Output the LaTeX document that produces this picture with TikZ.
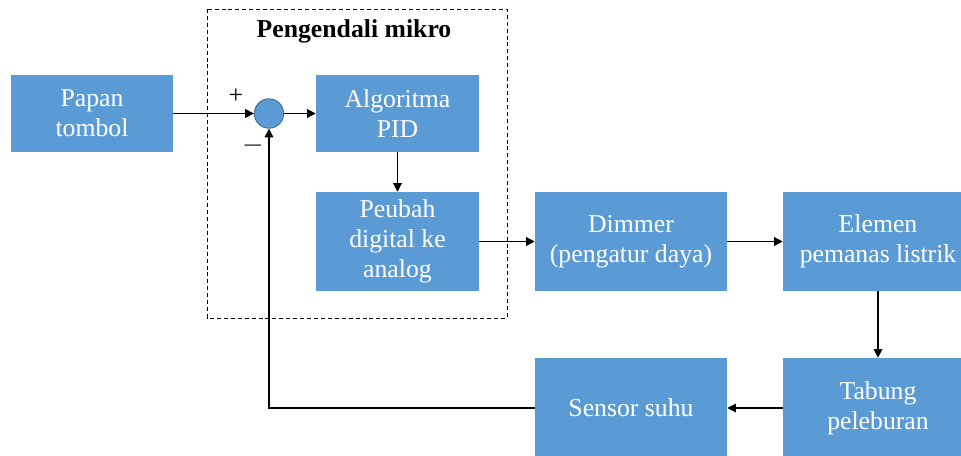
\documentclass[tikz,border=0pt]{standalone}
\usepackage{xcolor}
\usepackage{fontspec}
\setmainfont{Liberation Serif}
\usepackage{tikz}
\usetikzlibrary{arrows.meta}
\definecolor{blockblue}{RGB}{91,155,213}
\definecolor{blockedge}{RGB}{65,113,156}

\tikzset{
  block/.style={fill=blockblue, text=white, align=center, inner sep=0pt,
    font=\fontsize{19.3}{22.5}\selectfont},
  arr/.style={line width=0.9pt, -{Triangle[length=6.5pt,width=6.5pt]}}
}

\begin{document}
\begin{tikzpicture}[x=0.75pt, y=-0.75pt]
  \useasboundingbox (0,0) rectangle (961,455);
  \clip (0,0) rectangle (961,455);

  % microcontroller frame
  \draw[line width=0.75pt, dash pattern=on 3pt off 2.2pt] (207,9) rectangle (507,318);
  \node[font=\fontsize{19.3}{22.5}\selectfont\bfseries] (title) at (354,31) {Pengendali mikro};

  \node[block, minimum width=121.5pt, minimum height=57.75pt] (papan) at (92,113.5) {Papan\\tombol};
  \node[circle, fill=blockblue, draw=blockedge, line width=0.75pt, minimum size=22pt, inner sep=0pt] (sum) at (269,113.5) {};
  \node[block, minimum width=122.25pt, minimum height=57.75pt] (pid) at (397.5,113.5) {Algoritma\\PID};
  \node[block, minimum width=122.25pt, minimum height=74.25pt] (dac) at (397.5,241.5) {Peubah\\digital ke\\analog};
  \node[block, minimum width=144pt, minimum height=74.25pt] (dimmer) at (631,241.5) {Dimmer\\(pengatur daya)};
  \node[block, minimum width=142.5pt, minimum height=74.25pt] (heater) at (878,241.5) {Elemen\\pemanas listrik};
  \node[block, minimum width=142.5pt, minimum height=75pt] (tube) at (878,408) {Tabung\\peleburan};
  \node[block, minimum width=144pt, minimum height=75pt] (sensor) at (631,408) {Sensor suhu};

  \node[font=\fontsize{19.3}{22.5}\selectfont] (plus) at (236,96) {+};
  \node[font=\fontsize{19.3}{22.5}\selectfont] (minus) at (253,146) {$-$};

  \draw[arr] (papan.east) -- (sum.west);
  \draw[arr] (sum.east) -- (pid.west);
  \draw[arr] (pid.south) -- (dac.north);
  \draw[arr] (dac.east) -- (dimmer.west);
  \draw[arr] (dimmer.east) -- (heater.west);
  \draw[arr] (heater.south) -- (tube.north);
  \draw[arr] (tube.west) -- (sensor.east);
  \draw[arr] (sensor.west) -| (sum.south);
\end{tikzpicture}
\end{document}
